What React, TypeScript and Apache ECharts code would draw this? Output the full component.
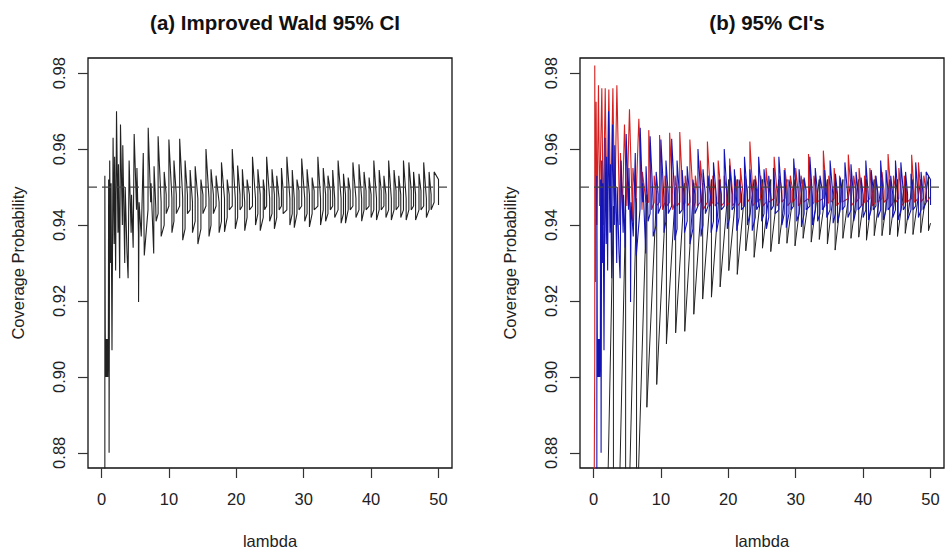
import React, { useEffect, useRef } from "react";
import * as echarts from "echarts";

// ---- axes ----
const lambdaTicks = [0, 10, 20, 30, 40, 50];
const cpTicks = [0.88, 0.9, 0.92, 0.94, 0.96, 0.98];
const lambdaRange = [-2, 52];
const cpRange = [0.876, 0.984];
const nominalLevel = 0.95;
const titles = ["(a) Improved Wald 95% CI", "(b) 95% CI's"];
const xTitle = "lambda";
const yTitle = "Coverage Probability";

// ---- improved Wald (panel a, blue in panel b) ----
// irregular start: [lambda, coverage]
const improvedWaldStart: number[][] = [
  [0.10, 0.70], [0.50, 0.78], [0.50, 0.953], [0.56, 0.912], [0.62, 0.900], [0.70, 0.910],
  [0.78, 0.900], [0.86, 0.910], [0.94, 0.900], [1.02, 0.910], [1.06, 0.952], [1.10, 0.941],
  [1.13, 0.880], [1.22, 0.957], [1.36, 0.930], [1.42, 0.951], [1.56, 0.907], [1.72, 0.963],
  [1.88, 0.935], [1.95, 0.958], [2.10, 0.928], [2.23, 0.970], [2.45, 0.938], [2.52, 0.956],
  [2.70, 0.926], [2.82, 0.9665], [3.10, 0.940], [3.16, 0.961], [3.45, 0.930], [3.52, 0.950],
  [3.78, 0.933], [3.95, 0.926], [4.10, 0.957], [4.40, 0.938], [4.46, 0.948], [4.70, 0.934],
  [4.85, 0.964], [5.20, 0.944], [5.26, 0.955], [5.48, 0.938], [5.50, 0.9197], [5.58, 0.946],
  [5.90, 0.937], [6.20, 0.959], [6.35, 0.932], [6.90, 0.944], [6.93, 0.9656], [7.30, 0.946],
  [7.35, 0.951], [7.75, 0.9325], [7.80, 0.9555], [8.05, 0.945], [8.10, 0.941],
];
// teeth: [jump lambda, value before jump, peak, drop lambda, value before drop, trough]
const improvedWaldTeeth: number[][] = [
  [8.40, 0.943, 0.9634, 8.85, 0.946, 0.937], [9.30, 0.940, 0.954, 9.60, 0.948, 0.943],
  [10.00, 0.945, 0.9625, 10.45, 0.947, 0.938], [10.75, 0.941, 0.957, 11.10, 0.948, 0.943],
  [11.60, 0.945, 0.9627, 12.05, 0.947, 0.936], [12.40, 0.939, 0.957, 12.75, 0.948, 0.943],
  [13.15, 0.944, 0.9545, 13.50, 0.946, 0.938], [13.90, 0.941, 0.9555, 14.30, 0.947, 0.935],
  [14.75, 0.939, 0.952, 15.05, 0.948, 0.943], [15.50, 0.945, 0.960, 15.95, 0.947, 0.937],
  [16.25, 0.940, 0.9547, 16.60, 0.948, 0.943], [17.00, 0.945, 0.953, 17.45, 0.946, 0.938],
  [17.80, 0.941, 0.9565, 18.25, 0.947, 0.9382], [18.65, 0.942, 0.952, 18.95, 0.948, 0.944],
  [19.40, 0.945, 0.960, 19.85, 0.947, 0.939], [20.20, 0.942, 0.9557, 20.55, 0.948, 0.944],
  [20.90, 0.945, 0.9547, 21.25, 0.946, 0.9385], [21.60, 0.942, 0.952, 21.95, 0.948, 0.944],
  [22.40, 0.945, 0.958, 22.85, 0.947, 0.940], [23.20, 0.943, 0.9547, 23.55, 0.948, 0.9385],
  [24.00, 0.942, 0.952, 24.20, 0.949, 0.944], [24.50, 0.945, 0.958, 24.95, 0.947, 0.941],
  [25.30, 0.943, 0.9547, 25.65, 0.948, 0.939], [26.00, 0.942, 0.953, 26.35, 0.947, 0.944],
  [26.70, 0.945, 0.955, 26.95, 0.949, 0.943], [27.50, 0.944, 0.958, 27.95, 0.947, 0.940],
  [28.30, 0.943, 0.9545, 28.60, 0.947, 0.9393], [29.00, 0.943, 0.952, 29.30, 0.949, 0.944],
  [29.70, 0.945, 0.9575, 30.15, 0.947, 0.941], [30.50, 0.943, 0.9547, 30.85, 0.948, 0.9395],
  [31.25, 0.943, 0.9525, 31.55, 0.949, 0.944], [32.10, 0.945, 0.958, 32.50, 0.947, 0.940],
  [32.90, 0.944, 0.955, 33.25, 0.948, 0.941], [33.60, 0.943, 0.953, 33.95, 0.949, 0.944],
  [34.30, 0.945, 0.9545, 34.60, 0.947, 0.942], [35.10, 0.944, 0.957, 35.55, 0.947, 0.9405],
  [35.90, 0.943, 0.9535, 36.20, 0.948, 0.9405], [36.60, 0.944, 0.9525, 36.90, 0.949, 0.944],
  [37.30, 0.945, 0.9565, 37.75, 0.947, 0.942], [38.20, 0.944, 0.956, 38.60, 0.947, 0.941],
  [38.95, 0.944, 0.954, 39.25, 0.949, 0.944], [39.70, 0.945, 0.9525, 40.00, 0.948, 0.942],
  [40.40, 0.944, 0.957, 40.80, 0.947, 0.9413], [41.20, 0.944, 0.9545, 41.50, 0.949, 0.944],
  [41.90, 0.945, 0.953, 42.20, 0.948, 0.942], [42.60, 0.944, 0.957, 43.00, 0.947, 0.9413],
  [43.40, 0.944, 0.9545, 43.70, 0.949, 0.944], [44.10, 0.945, 0.953, 44.40, 0.948, 0.942],
  [44.80, 0.944, 0.957, 45.20, 0.947, 0.9413], [45.60, 0.944, 0.9565, 45.95, 0.949, 0.944],
  [46.30, 0.945, 0.954, 46.60, 0.948, 0.9413], [47.10, 0.944, 0.9535, 47.40, 0.949, 0.944],
  [47.80, 0.945, 0.9565, 48.20, 0.947, 0.942], [48.60, 0.944, 0.954, 48.90, 0.948, 0.944],
  [49.35, 0.946, 0.954, 50.00, 0.952, 0.9453],
];

// ---- standard Wald (black, panel b) ----
const waldStart: number[][] = [[0.10, 0.10], [1.00, 0.61], [2.00, 0.86]];
// drops: [lambda, value just before drop, value just after drop]
const waldDrops: number[][] = [
  [2.96, 0.945, 0.797], [4.77, 0.944, 0.830], [6.39, 0.947, 0.858], [7.92, 0.948, 0.892],
  [9.38, 0.949, 0.898], [10.82, 0.950, 0.9087], [12.19, 0.950, 0.9116], [13.54, 0.951, 0.912],
  [14.88, 0.951, 0.9165], [16.20, 0.951, 0.9205], [17.50, 0.952, 0.921], [18.79, 0.952, 0.9237],
  [20.07, 0.952, 0.928], [21.33, 0.952, 0.927], [22.59, 0.952, 0.9332], [23.83, 0.952, 0.9315],
  [25.07, 0.952, 0.9339], [26.30, 0.952, 0.933], [27.50, 0.952, 0.935], [28.70, 0.952, 0.9352],
  [29.90, 0.952, 0.9345], [31.10, 0.952, 0.9365], [32.30, 0.952, 0.9355], [33.50, 0.952, 0.9362],
  [34.70, 0.952, 0.935], [35.85, 0.952, 0.9334], [37.00, 0.952, 0.9365], [38.20, 0.952, 0.9365],
  [39.35, 0.952, 0.9368], [40.50, 0.952, 0.936], [41.65, 0.952, 0.9372], [42.80, 0.952, 0.9372],
  [43.95, 0.952, 0.9374], [45.10, 0.952, 0.937], [46.25, 0.952, 0.9378], [47.40, 0.952, 0.9375],
  [48.55, 0.952, 0.938], [49.70, 0.953, 0.9385],
];
const waldEnd: number[][] = [[50.0, 0.9405]];

// ---- third interval (red, panel b) ----
const redStart: number[][] = [
  [0.05, 0.85], [0.19, 0.905], [0.19, 0.982], [0.30, 0.925], [0.39, 0.9725], [0.50, 0.940],
  [0.74, 0.9768], [0.90, 0.945], [1.24, 0.976], [1.45, 0.940], [1.74, 0.976], [2.00, 0.942],
  [2.28, 0.9757], [2.55, 0.944], [2.88, 0.976], [3.15, 0.943], [3.47, 0.9768], [3.90, 0.940],
  [4.00, 0.959], [4.30, 0.944], [4.60, 0.9665], [4.95, 0.945], [5.34, 0.9705], [5.80, 0.941],
  [5.85, 0.955], [6.30, 0.946], [6.73, 0.968], [7.20, 0.944], [7.25, 0.954], [7.80, 0.946],
];
const redTeeth: number[][] = [
  [8.20, 0.946, 0.965, 8.60, 0.948, 0.944], [9.00, 0.946, 0.953, 9.30, 0.949, 0.945],
  [9.80, 0.946, 0.9637, 10.25, 0.948, 0.944], [10.60, 0.946, 0.953, 10.90, 0.949, 0.945],
  [11.30, 0.946, 0.9643, 11.75, 0.948, 0.944], [12.10, 0.946, 0.953, 12.40, 0.949, 0.945],
  [12.80, 0.946, 0.9645, 13.25, 0.948, 0.944], [13.60, 0.946, 0.953, 13.95, 0.949, 0.945],
  [14.30, 0.946, 0.9625, 14.75, 0.948, 0.944], [15.10, 0.946, 0.953, 15.40, 0.949, 0.945],
  [15.85, 0.946, 0.957, 16.25, 0.948, 0.944], [16.90, 0.946, 0.962, 17.35, 0.948, 0.945],
  [17.70, 0.946, 0.953, 18.05, 0.949, 0.945], [18.50, 0.946, 0.957, 18.95, 0.948, 0.945],
  [19.40, 0.946, 0.953, 19.75, 0.949, 0.945], [20.20, 0.946, 0.9575, 20.65, 0.948, 0.945],
  [21.00, 0.946, 0.953, 21.35, 0.949, 0.945], [21.80, 0.946, 0.955, 22.20, 0.948, 0.945],
  [22.50, 0.946, 0.953, 22.85, 0.949, 0.946], [23.20, 0.947, 0.962, 23.65, 0.948, 0.945],
  [24.00, 0.946, 0.953, 24.35, 0.949, 0.946], [24.80, 0.947, 0.953, 25.15, 0.949, 0.945],
  [25.60, 0.946, 0.955, 26.00, 0.948, 0.946], [26.80, 0.947, 0.958, 27.25, 0.948, 0.945],
  [27.60, 0.946, 0.953, 27.95, 0.949, 0.946], [28.40, 0.947, 0.955, 28.80, 0.948, 0.945],
  [29.20, 0.946, 0.953, 29.55, 0.949, 0.946], [30.00, 0.947, 0.955, 30.40, 0.948, 0.945],
  [30.80, 0.946, 0.953, 31.15, 0.949, 0.946], [31.90, 0.947, 0.9587, 32.35, 0.948, 0.945],
  [32.70, 0.946, 0.953, 33.05, 0.949, 0.946], [34.10, 0.947, 0.9596, 34.55, 0.948, 0.945],
  [34.90, 0.946, 0.953, 35.25, 0.949, 0.946], [35.70, 0.947, 0.955, 36.10, 0.948, 0.945],
  [36.50, 0.946, 0.953, 36.85, 0.949, 0.946], [37.80, 0.947, 0.9586, 38.25, 0.948, 0.945],
  [38.60, 0.946, 0.953, 38.95, 0.949, 0.946], [39.40, 0.947, 0.955, 39.80, 0.948, 0.945],
  [40.20, 0.946, 0.953, 40.55, 0.949, 0.946], [41.00, 0.947, 0.955, 41.40, 0.948, 0.945],
  [41.80, 0.946, 0.953, 42.15, 0.949, 0.946], [42.80, 0.947, 0.954, 43.10, 0.949, 0.946],
  [43.70, 0.947, 0.9587, 44.15, 0.948, 0.945], [44.50, 0.946, 0.953, 44.85, 0.949, 0.946],
  [45.30, 0.947, 0.955, 45.70, 0.948, 0.945], [46.10, 0.946, 0.953, 46.45, 0.949, 0.946],
  [47.20, 0.947, 0.9585, 47.60, 0.948, 0.946], [48.20, 0.947, 0.9565, 48.55, 0.949, 0.946],
  [49.00, 0.947, 0.953, 49.40, 0.949, 0.946],
];
const redEnd: number[][] = [[50.0, 0.9475]];

function teethToPoints(teeth: number[][]): number[][] {
  const pts: number[][] = [];
  for (const [a, base, peak, b, mid, trough] of teeth) {
    pts.push([a, base], [a, peak], [b, mid], [b, trough]);
  }
  return pts;
}
function dropsToPoints(drops: number[][]): number[][] {
  const pts: number[][] = [];
  for (const [x, before, after] of drops) pts.push([x, before], [x, after]);
  return pts;
}

const improvedWald = [...improvedWaldStart, ...teethToPoints(improvedWaldTeeth)];
const wald = [...waldStart, ...dropsToPoints(waldDrops), ...waldEnd];
const redCI = [...redStart, ...teethToPoints(redTeeth), ...redEnd];

const FONT = "'Liberation Sans', Arial, Helvetica, sans-serif";
const GRID_LEFTS = [88, 580];

export default function App() {
  const ref = useRef<HTMLDivElement>(null);
  useEffect(() => {
    if (!ref.current) return;
    const chart = echarts.init(ref.current, undefined, { renderer: "svg" });
    const grids = GRID_LEFTS.map((left) => ({
      left, top: 58, width: 364, height: 410, show: true,
      borderColor: "#111", borderWidth: 1.3, backgroundColor: "transparent",
    }));
    const xAxes = GRID_LEFTS.map((_, i) => ({
      gridIndex: i, type: "value", min: lambdaRange[0], max: lambdaRange[1],
      axisLine: { show: false, onZero: false }, splitLine: { show: false },
      axisTick: { show: true, length: 10, customValues: lambdaTicks, lineStyle: { color: "#333", width: 1.2 } },
      axisLabel: { customValues: lambdaTicks, margin: 22, fontSize: 16.5, color: "#222", fontFamily: FONT },
      name: xTitle, nameLocation: "middle", nameGap: 64,
      nameTextStyle: { fontSize: 16.5, color: "#222", fontFamily: FONT },
    }));
    const yAxes = GRID_LEFTS.map((_, i) => ({
      gridIndex: i, type: "value", min: cpRange[0], max: cpRange[1],
      axisLine: { show: false, onZero: false }, splitLine: { show: false },
      axisTick: { show: true, length: 10, customValues: cpTicks, lineStyle: { color: "#333", width: 1.2 } },
      axisLabel: {
        customValues: cpTicks, rotate: 90, margin: 21, fontSize: 16.5, color: "#222", fontFamily: FONT,
        formatter: (v: number) => v.toFixed(2),
      },
      name: yTitle, nameLocation: "middle", nameGap: 62, nameRotate: 90,
      nameTextStyle: { fontSize: 16.5, color: "#222", fontFamily: FONT },
    }));
    const line = (data: number[][], idx: number, color: string, width: number) => ({
      type: "line", data, xAxisIndex: idx, yAxisIndex: idx, showSymbol: false, symbol: "none",
      lineStyle: { color, width }, clip: true, silent: true,
    });
    const dashed = (idx: number) => ({
      type: "line", xAxisIndex: idx, yAxisIndex: idx, showSymbol: false, symbol: "none",
      data: [[lambdaRange[0], nominalLevel], [lambdaRange[1], nominalLevel]],
      lineStyle: { color: "#444", width: 1.3, type: [9, 5] }, clip: true, silent: true, z: 5,
    });
    chart.setOption({
      animation: false,
      backgroundColor: "#ffffff",
      title: titles.map((t, i) => ({
        text: t, left: GRID_LEFTS[i] + 182, top: 7, textAlign: "center",
        textStyle: { fontSize: 20.5, fontWeight: "bold", color: "#111", fontFamily: FONT },
      })),
      grid: grids,
      xAxis: xAxes,
      yAxis: yAxes,
      series: [
        line(improvedWald, 0, "#222222", 1.1),
        dashed(0),
        line(wald, 1, "#222222", 1),
        line(redCI, 1, "#d42020", 1.1),
        line(improvedWald, 1, "#1414b4", 1.1),
        dashed(1),
      ],
    });
    return () => chart.dispose();
  }, []);
  return (
    <div
      ref={ref}
      style={{ position: "fixed", left: 0, top: 0, width: 946, height: 555, background: "#fff" }}
    />
  );
}
